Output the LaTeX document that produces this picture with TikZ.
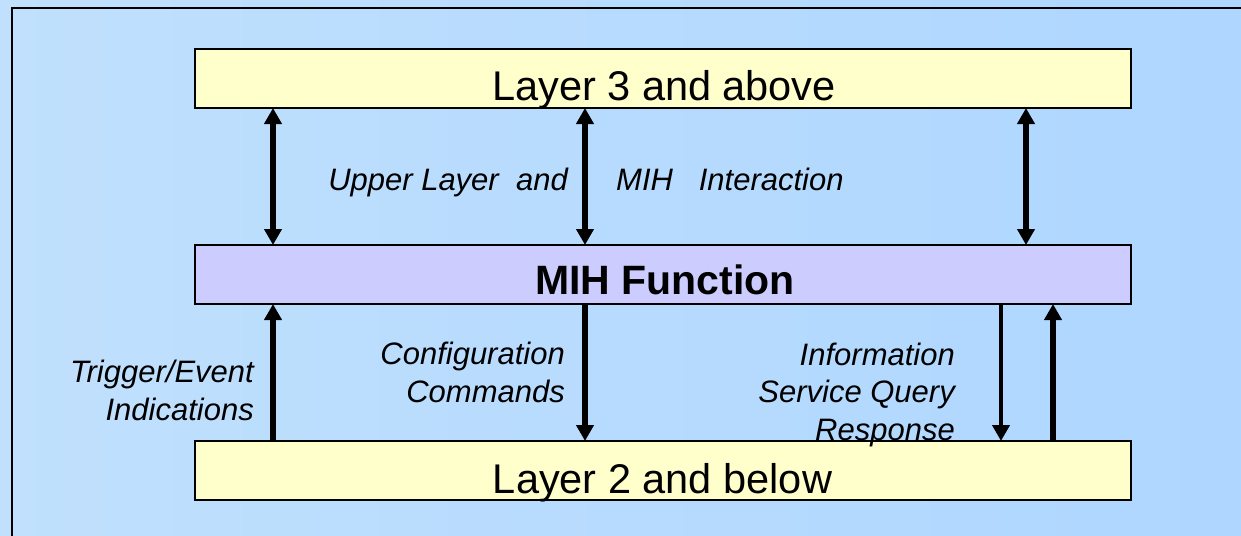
\documentclass[tikz,border=0pt]{standalone}
\usepackage{fontspec}
\setmainfont{Liberation Sans}
\usetikzlibrary{arrows.meta}
\definecolor{bgA}{RGB}{192,224,253}
\definecolor{bgB}{RGB}{174,214,255}
\definecolor{layerfill}{RGB}{255,255,204}
\definecolor{mihfill}{RGB}{204,204,255}
\begin{document}
\begin{tikzpicture}[x=1pt,y=-1pt,
  boxbase/.style={draw=black, line width=2pt, minimum width=936pt, minimum height=59pt, inner sep=0pt, outer sep=0pt},
  layer/.style={boxbase, fill=layerfill},
  mihbox/.style={boxbase, fill=mihfill},
  boxtext/.style={inner sep=0pt, font=\fontsize{41.5}{48}\selectfont},
  lbl/.style={inner sep=0pt, align=right, font=\fontsize{31}{37.5}\selectfont\itshape},
  tip/.tip={Triangle[width=17pt,length=16pt]},
  bothway/.style={line width=6pt, tip-tip},
  upway/.style={line width=5.5pt, -tip},
  downway/.style={line width=4.5pt, -tip}
]
\useasboundingbox (0,0) rectangle (1241,535);
\shade[left color=bgA, right color=bgB] (0,0) rectangle (1241,535);
\draw[line width=2pt] (12,540) -- (12,8) -- (1250,8);

\node[layer] (top) at (663,78.5) {};
\node[mihbox] (mih) at (663,274.5) {};
\node[layer] (bot) at (663,470.5) {};

\node[boxtext, anchor=base] (toptxt) at (664,100) {Layer 3 and above};
\node[boxtext, font=\fontsize{41}{48}\selectfont\bfseries, anchor=base] (mihtxt) at (665,294) {MIH Function};
\node[boxtext, anchor=base] (bottxt) at (662.5,493) {Layer 2 and below};

\coordinate (c1) at (273,0);
\coordinate (c2) at (585,0);
\coordinate (c3) at (1026,0);
\coordinate (c4) at (1001,0);
\coordinate (c5) at (1053,0);

\draw[bothway] (c1 |- top.south) -- (c1 |- mih.north);
\draw[bothway] (c2 |- top.south) -- (c2 |- mih.north);
\draw[bothway] (c3 |- top.south) -- (c3 |- mih.north);

\draw[upway, line width=6pt] (c1 |- bot.north) -- (c1 |- mih.south);
\draw[bothway, -tip] (c2 |- mih.south) -- (c2 |- bot.north);
\draw[downway] (c4 |- mih.south) -- (c4 |- bot.north);
\draw[upway] (c5 |- bot.north) -- (c5 |- mih.south);

\node[lbl, anchor=base east] (ul) at (568,190) {Upper Layer\ \ and};
\node[lbl, anchor=base west] (mi) at (616,190) {MIH\ \ \ Interaction};
\node[lbl, anchor=base east] (trig) at (254,420) {Trigger/Event\\Indications};
\node[lbl, anchor=base east] (conf) at (565,402) {Configuration\\Commands};
\node[lbl, anchor=base east] (info) at (955,440) {Information\\Service Query\\Response};
\end{tikzpicture}
\end{document}
